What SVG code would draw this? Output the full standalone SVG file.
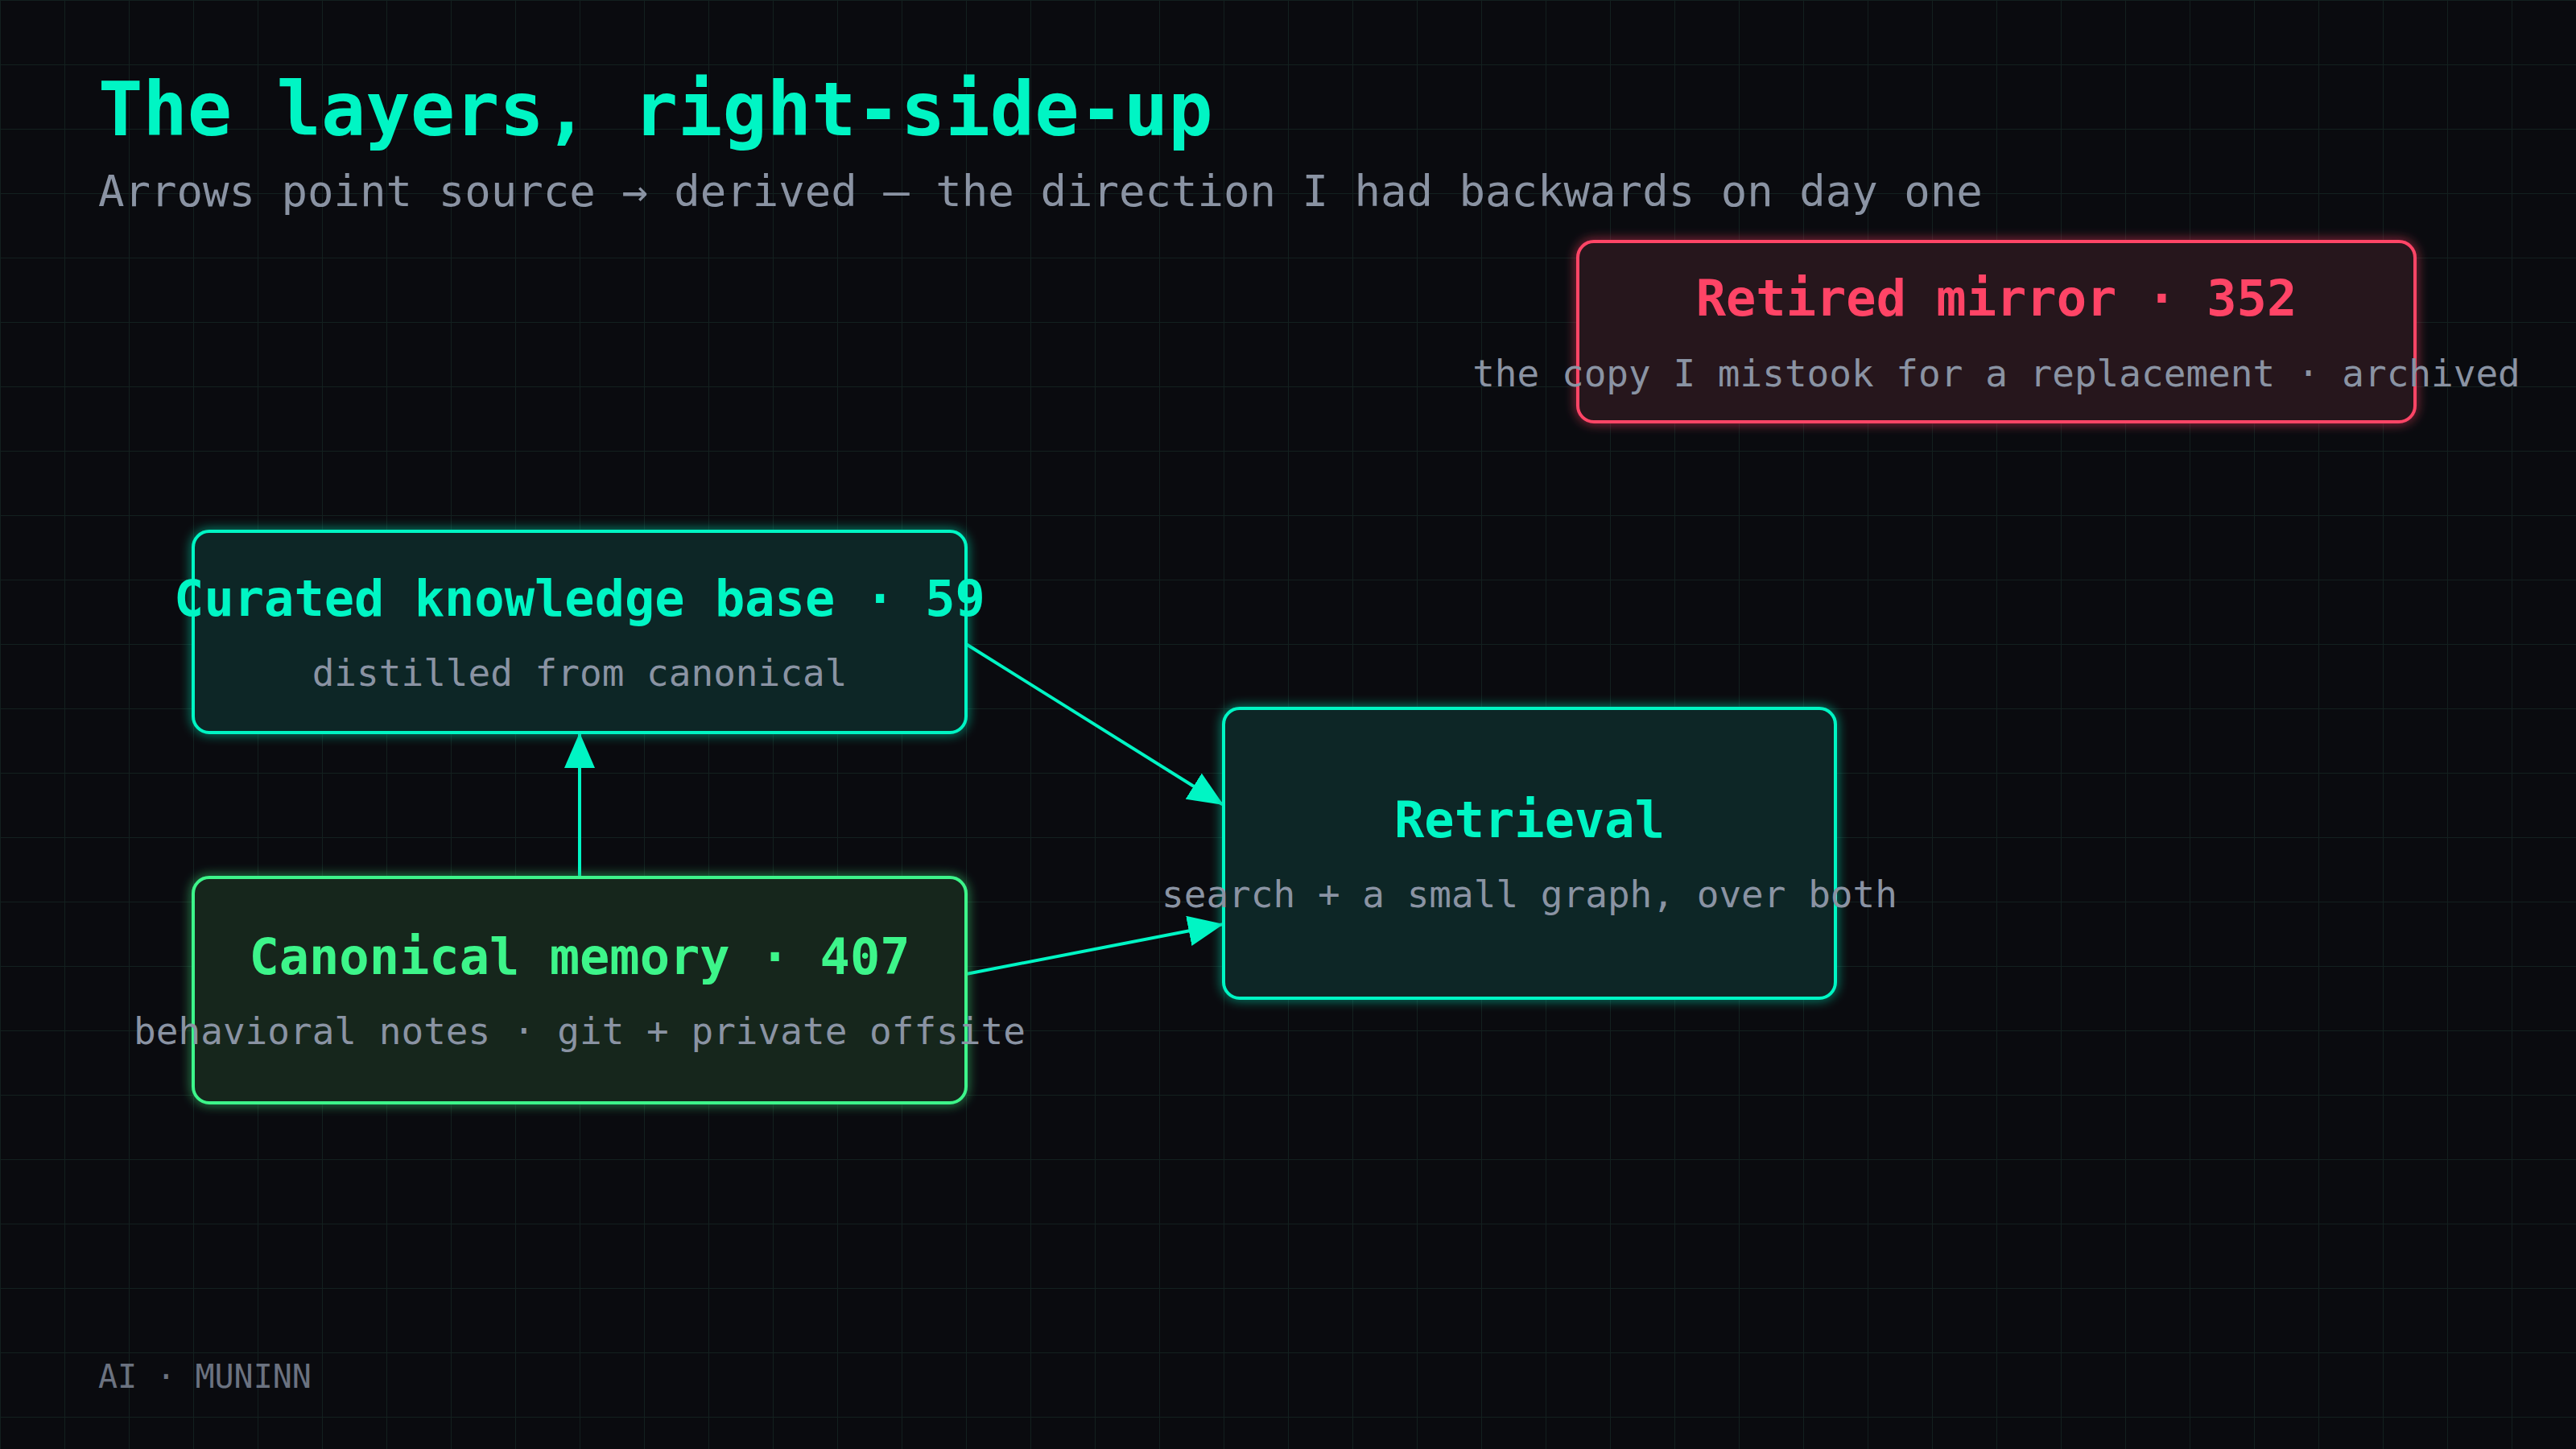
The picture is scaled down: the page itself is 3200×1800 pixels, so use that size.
<svg xmlns="http://www.w3.org/2000/svg" width="3200" height="1800" viewBox="0 0 3200 1800">
  <defs>
    <pattern id="grid" width="80" height="80" patternUnits="userSpaceOnUse">
      <path d="M80 0 L0 0 L0 80" fill="none" stroke="#13201f" stroke-width="2"/>
    </pattern>
    <filter id="glow" x="-10%" y="-20%" width="120%" height="140%">
      <feGaussianBlur in="SourceGraphic" stdDeviation="7" result="b"/>
      <feComponentTransfer in="b" result="b2"><feFuncA type="linear" slope="0.8"/></feComponentTransfer>
      <feMerge><feMergeNode in="b2"/><feMergeNode in="SourceGraphic"/></feMerge>
    </filter>
    <marker id="arrow" viewBox="0 0 44 38" refX="44" refY="19" markerWidth="44" markerHeight="38" markerUnits="userSpaceOnUse" orient="auto">
      <path d="M0 0 L44 19 L0 38 Z" fill="#00f5c4"/>
    </marker>
  </defs>
  <style>
    .mono { font-family: "DejaVu Sans Mono", "Liberation Mono", monospace; }
    .title { font-weight: bold; font-size: 62px; text-anchor: middle; }
    .sub { font-size: 46px; fill: #8a93a3; text-anchor: middle; }
    .teal-box { fill: #0a2626; stroke: #00f5c4; stroke-width: 4; }
    .green-box { fill: #13251c; stroke: #3df58a; stroke-width: 4; }
    .red-box { fill: #26121a; stroke: #ff4466; stroke-width: 4; }
    .edge { stroke: #00f5c4; stroke-width: 4; fill: none; }
  </style>
  <rect x="0" y="0" width="3200" height="1800" fill="#0a0b0f"/>
  <rect x="0" y="0" width="3200" height="1800" fill="url(#grid)"/>

  <g id="header" class="mono">
    <text x="122" y="168" font-size="92" font-weight="bold" fill="#00f5c4">The layers, right-side-up</text>
    <text x="122" y="256" font-size="54" fill="#8a93a3">Arrows point source → derived — the direction I had backwards on day one</text>
  </g>

  <g id="connectors">
    <line class="edge" x1="720" y1="1090" x2="720" y2="910" marker-end="url(#arrow)"/>
    <line class="edge" x1="1200" y1="800" x2="1520" y2="1000" marker-end="url(#arrow)"/>
    <line class="edge" x1="1200" y1="1210" x2="1520" y2="1148" marker-end="url(#arrow)"/>
  </g>

  <g id="node-retired" class="mono">
    <rect class="red-box" x="1960" y="300" width="1040" height="224" rx="20" filter="url(#glow)"/>
    <text class="title" x="2480" y="392" fill="#ff4466">Retired mirror · 352</text>
    <text class="sub" x="2480" y="480">the copy I mistook for a replacement · archived</text>
  </g>

  <g id="node-curated" class="mono">
    <rect class="teal-box" x="240" y="660" width="960" height="250" rx="20" filter="url(#glow)"/>
    <text class="title" x="720" y="765" fill="#00f5c4">Curated knowledge base · 59</text>
    <text class="sub" x="720" y="852">distilled from canonical</text>
  </g>

  <g id="node-canonical" class="mono">
    <rect class="green-box" x="240" y="1090" width="960" height="280" rx="20" filter="url(#glow)"/>
    <text class="title" x="720" y="1210" fill="#3df58a">Canonical memory · 407</text>
    <text class="sub" x="720" y="1297">behavioral notes · git + private offsite</text>
  </g>

  <g id="node-retrieval" class="mono">
    <rect class="teal-box" x="1520" y="880" width="760" height="360" rx="20" filter="url(#glow)"/>
    <text class="title" x="1900" y="1040" fill="#00f5c4">Retrieval</text>
    <text class="sub" x="1900" y="1127">search + a small graph, over both</text>
  </g>

  <g id="footer" class="mono">
    <text x="122" y="1724" font-size="40" fill="#6b7280">AI · MUNINN</text>
  </g>
</svg>
